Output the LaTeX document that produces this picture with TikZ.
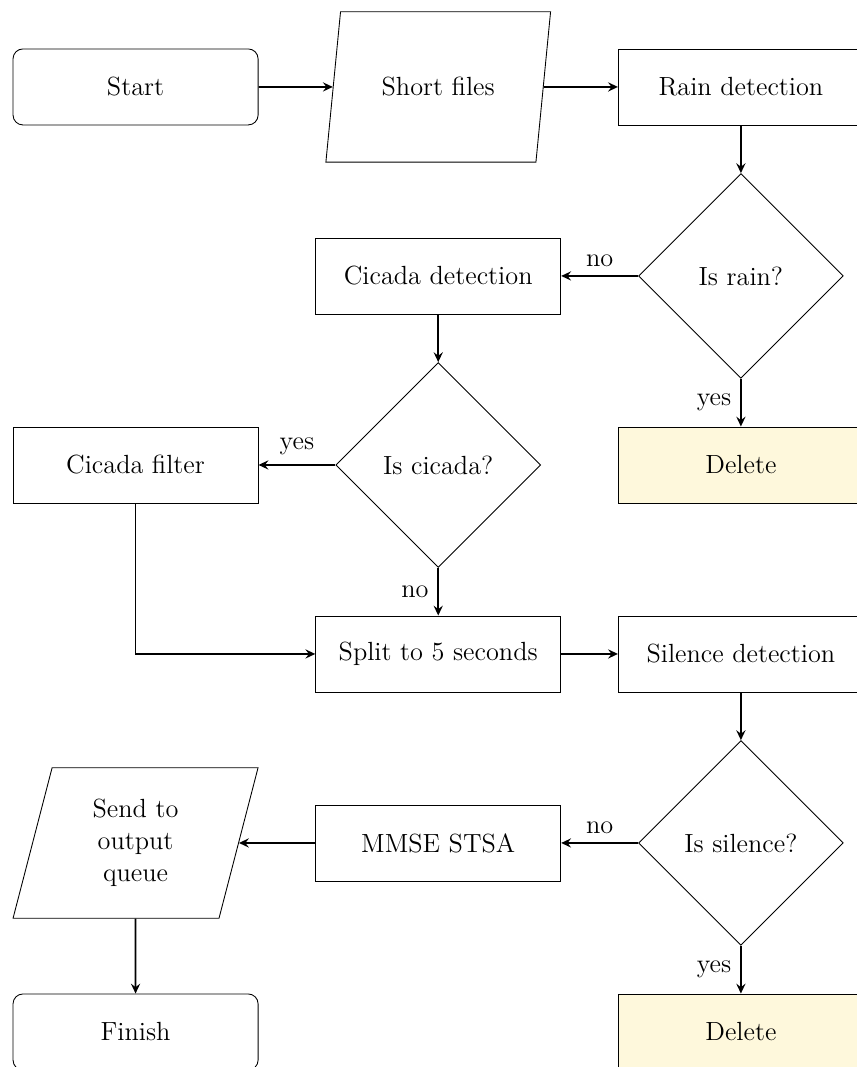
\documentclass[tikz,border=0pt,12pt]{standalone}
\usepackage{amsmath}
\usepackage{tikz}
\usetikzlibrary{arrows.meta, shapes, positioning}

\definecolor{delfill}{RGB}{254,248,220}

\tikzset{
	terminal/.style={rectangle, rounded corners=4.5pt, draw, minimum width=111.9pt, minimum height=34.7pt, align=center},
	process/.style={rectangle, draw, minimum width=111.9pt, minimum height=34.7pt, align=center},
	io/.style={trapezium, trapezium stretches=true, draw, minimum height=68.7pt, align=center},
	decision/.style={diamond, draw, aspect=1, minimum width=93.5pt, minimum height=93.5pt, inner sep=0pt},
	removed/.style={process, fill=delfill},
}

\begin{document}
\begin{tikzpicture}[node distance=86.3pt and 138.2pt,on grid,auto,>={Stealth[length=4.5pt,width=4.2pt,inset=1.6pt]}]
	\useasboundingbox (-61.9pt,39.7pt) rectangle (329.0pt,-447.5pt);

	\node[terminal] (start) {Start};
	\node[io, right = of start, minimum width=103.2pt, trapezium left angle=75, trapezium right angle=105] (files) {Short files};
	\node[process, right = of files] (rain) {Rain detection};
	\node[decision, below = of rain] (israin) {Is rain?};
	\node[process, left = of israin] (cicdet) {Cicada detection};
	\node[removed, below = of israin] (del1) {Delete};
	\node[decision, below = of cicdet] (iscicada) {Is cicada?};
	\node[process, left = of iscicada] (filter) {Cicada filter};
	\node[process, below = of iscicada] (split) {Split to 5 seconds};
	\node[process, right = of split] (silence) {Silence detection};
	\node[decision, below = of silence] (issilence) {Is silence?};
	\node[process, left = of issilence] (mmse) {MMSE STSA};
	\node[removed, below = of issilence] (del2) {Delete};
	\node[io, left = of mmse, minimum width=112.3pt, trapezium left angle=77, trapezium right angle=103] (output) {Send to\\output\\queue};
	\node[terminal, below = of output] (finish) {Finish};

	\path[->, thick] (start) edge (files)
	(files) edge (rain)
	(rain) edge (israin)
	(israin) edge node[swap] {no} (cicdet)
	(israin) edge node[swap] {yes} (del1)
	(cicdet) edge (iscicada)
	(iscicada) edge node[swap] {yes} (filter)
	(iscicada) edge node[swap] {no} (split)
	(split) edge (silence)
	(silence) edge (issilence)
	(issilence) edge node[swap] {no} (mmse)
	(issilence) edge node[swap] {yes} (del2)
	(mmse) edge (output)
	(output) edge (finish);
	\draw[->, thick] (filter) |- (split);
\end{tikzpicture}
\end{document}
